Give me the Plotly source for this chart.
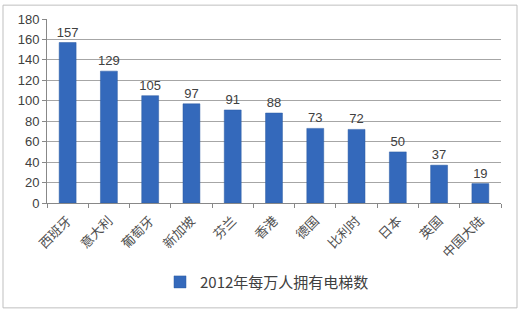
import plotly.graph_objects as go

categories = ["西班牙", "意大利", "葡萄牙", "新加坡", "芬兰", "香港", "德国", "比利时", "日本", "英国", "中国大陆"]
values = [157, 129, 105, 97, 91, 88, 73, 72, 50, 37, 19]
series_name = "2012年每万人拥有电梯数"
y_ticks = [0, 20, 40, 60, 80, 100, 120, 140, 160, 180]

L, R, T, B = 47, 19, 17, 110
W, H = 520, 313
pw, ph = W - L - R, H - T - B

fig = go.Figure()
fig.add_trace(go.Bar(
    x=categories, y=values, name=series_name,
    marker=dict(color="#3469bb", line=dict(color="#2a5ba3", width=0.5)),
    text=[str(v) for v in values], textposition="outside",
    constraintext="none",
    textfont=dict(family="Liberation Sans, Arial, sans-serif", size=13, color="#404040"),
    cliponaxis=False,
    showlegend=True,
))

fig.update_layout(
    width=W, height=H,
    margin=dict(l=L, r=R, t=T, b=B),
    paper_bgcolor="white", plot_bgcolor="white",
    bargap=0.59,
    font=dict(family="Liberation Sans, Arial, sans-serif", color="#404040"),
    xaxis=dict(
        type="category", tickangle=-45, tickson="boundaries",
        ticks="outside", ticklen=4, tickcolor="#888888",
        ticklabelstandoff=4,
        showline=True, linecolor="#888888", linewidth=1,
        tickfont=dict(family="Noto Sans CJK SC", size=13, color="#505050"),
        showgrid=False,
    ),
    yaxis=dict(
        range=[0, 180], tickvals=y_ticks,
        ticks="outside", ticklen=4, tickcolor="#888888",
        showline=True, linecolor="#888888", linewidth=1,
        showgrid=True, gridcolor="#a6a6a6", gridwidth=1,
        zeroline=False,
        tickfont=dict(family="Liberation Sans, Arial, sans-serif", size=13, color="#404040"),
    ),
    legend=dict(
        orientation="h", x=(160 - L) / pw, xanchor="left",
        y=(H - 283 - B) / ph, yanchor="middle",
        yref="paper",
        font=dict(family="Noto Sans CJK SC", size=15, color="#404040"),
        itemwidth=30,
    ),
    shapes=[dict(
        type="rect", xref="paper", yref="paper",
        x0=(3 - L) / pw, x1=(517 - L) / pw,
        y0=(H - B - 309) / ph, y1=(H - B - 3) / ph,
        line=dict(color="#bfbfbf", width=1), fillcolor="rgba(0,0,0,0)", layer="below",
    )],
)

fig.write_html("out.html")
